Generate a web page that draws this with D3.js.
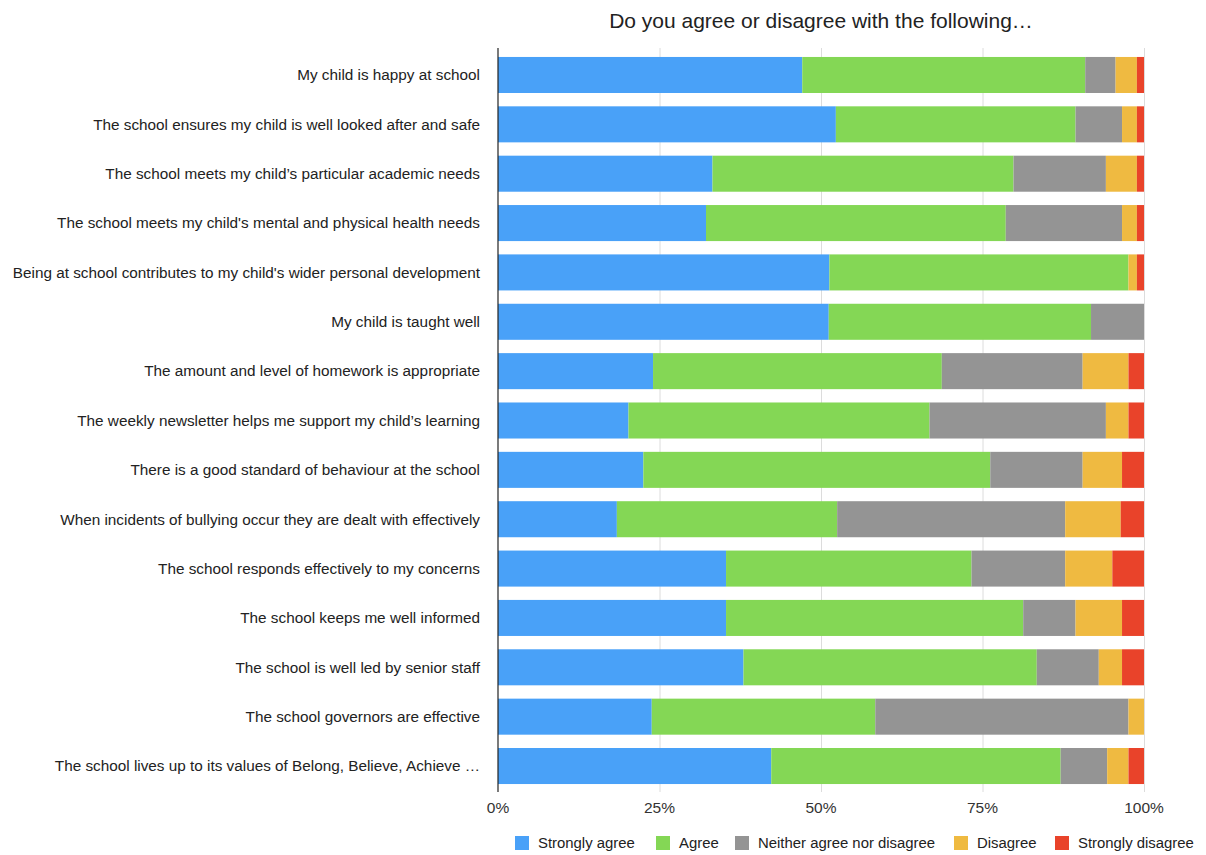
<!DOCTYPE html>
<html>
<head>
<meta charset="utf-8">
<script src="https://cdn.jsdelivr.net/npm/d3@7"></script>
<style>
  html, body { margin: 0; padding: 0; background: #fff; }
  svg { display: block; font-family: "Liberation Sans", Arial, Helvetica, sans-serif; }
</style>
</head>
<body>
<svg id="chart" width="1206" height="855"></svg>
<script>
// Survey statements, top to bottom
const questions = [
  "My child is happy at school",
  "The school ensures my child is well looked after and safe",
  "The school meets my child’s particular academic needs",
  "The school meets my child's mental and physical health needs",
  "Being at school contributes to my child's wider personal development",
  "My child is taught well",
  "The amount and level of homework is appropriate",
  "The weekly newsletter helps me support my child’s learning",
  "There is a good standard of behaviour at the school",
  "When incidents of bullying occur they are dealt with effectively",
  "The school responds effectively to my concerns",
  "The school keeps me well informed",
  "The school is well led by senior staff",
  "The school governors are effective",
  "The school lives up to its values of Belong, Believe, Achieve …"
];

// Percent of responses per answer
const stronglyAgree     = [47.1, 52.3, 33.2, 32.2, 51.3, 51.2, 24.0, 20.2, 22.5, 18.4, 35.3, 35.3, 38.0, 23.8, 42.3];
const agree             = [43.8, 37.1, 46.6, 46.4, 46.3, 40.6, 44.7, 46.6, 53.7, 34.1, 38.0, 46.0, 45.4, 34.6, 44.8];
const neither           = [ 4.7,  7.2, 14.3, 18.0,  0.0,  8.2, 21.8, 27.3, 14.3, 35.3, 14.5,  8.1,  9.6, 39.2,  7.2];
const disagree          = [ 3.3,  2.3,  4.8,  2.3,  1.3,  0.0,  7.1,  3.5,  6.1,  8.6,  7.3,  7.2,  3.6,  2.4,  3.3];
const stronglyDisagree  = [ 1.1,  1.1,  1.1,  1.1,  1.1,  0.0,  2.4,  2.4,  3.4,  3.6,  4.9,  3.4,  3.4,  0.0,  2.4];

const seriesNames = ["Strongly agree", "Agree", "Neither agree nor disagree", "Disagree", "Strongly disagree"];
const seriesColors = ["#49a1f8", "#84d755", "#949494", "#efba41", "#e9432a"];
const xTicks = [0, 25, 50, 75, 100];

const title = "Do you agree or disagree with the following…";

// build rows for d3.stack
const rows = questions.map((q, i) => ({
  question: q,
  [seriesNames[0]]: stronglyAgree[i],
  [seriesNames[1]]: agree[i],
  [seriesNames[2]]: neither[i],
  [seriesNames[3]]: disagree[i],
  [seriesNames[4]]: stronglyDisagree[i],
}));

const stacked = d3.stack().keys(seriesNames)(rows);

const svg = d3.select("#chart");
const plotTop = 48, plotBottom = 792;

const x = d3.scaleLinear().domain([0, 100]).range([498, 1144]);
const y = d3.scaleBand()
  .domain(questions)
  .range([50.3, 790.7])
  .paddingInner(0.27)
  .paddingOuter(0.135);
const color = d3.scaleOrdinal().domain(seriesNames).range(seriesColors);

// title
svg.append("text")
  .attr("x", 821)
  .attr("y", 28)
  .attr("text-anchor", "middle")
  .attr("font-size", 21)
  .attr("fill", "#222")
  .text(title);

// gridlines
svg.append("g")
  .selectAll("line")
  .data(xTicks.slice(1))
  .join("line")
  .attr("x1", d => x(d) + 0.5)
  .attr("x2", d => x(d) + 0.5)
  .attr("y1", plotTop)
  .attr("y2", plotBottom)
  .attr("stroke", "#dcdcdc")
  .attr("stroke-width", 1);

// bars
svg.append("g")
  .selectAll("g")
  .data(stacked)
  .join("g")
  .attr("fill", d => color(d.key))
  .selectAll("rect")
  .data(d => d)
  .join("rect")
  .attr("x", d => x(d[0]))
  .attr("y", d => y(d.data.question))
  .attr("width", d => Math.max(0, x(d[1]) - x(d[0])))
  .attr("height", y.bandwidth());

// left axis line
svg.append("line")
  .attr("x1", x(0))
  .attr("x2", x(0))
  .attr("y1", plotTop)
  .attr("y2", plotBottom)
  .attr("stroke", "#222")
  .attr("stroke-width", 1.2);

// category labels
svg.append("g")
  .selectAll("text")
  .data(questions)
  .join("text")
  .attr("x", 480)
  .attr("y", d => y(d) + y.bandwidth() / 2)
  .attr("dy", "0.35em")
  .attr("text-anchor", "end")
  .attr("font-size", 15.3)
  .attr("fill", "#222")
  .text(d => d);

// x tick labels
svg.append("g")
  .selectAll("text")
  .data(xTicks)
  .join("text")
  .attr("x", d => x(d))
  .attr("y", 808)
  .attr("dy", "0.35em")
  .attr("text-anchor", "middle")
  .attr("font-size", 15.5)
  .attr("fill", "#333")
  .text(d => d + "%");

// legend
const legendX = [515, 656, 735, 954, 1055];
const legend = svg.append("g")
  .selectAll("g")
  .data(seriesNames)
  .join("g")
  .attr("transform", (d, i) => `translate(${legendX[i]}, 843)`);

legend.append("rect")
  .attr("x", 0)
  .attr("y", -7)
  .attr("width", 14)
  .attr("height", 14)
  .attr("fill", d => color(d));

legend.append("text")
  .attr("x", 23)
  .attr("y", 0)
  .attr("dy", "0.35em")
  .attr("font-size", 14.9)
  .attr("fill", "#222")
  .text(d => d);
</script>
</body>
</html>
